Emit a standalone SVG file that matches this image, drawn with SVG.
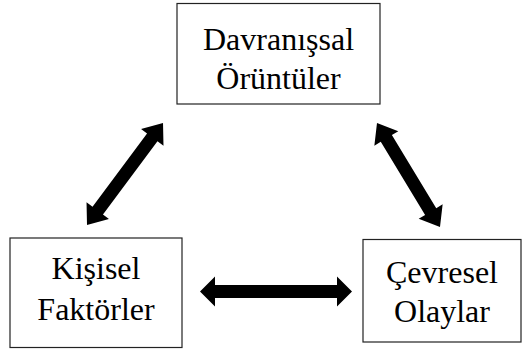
<svg xmlns="http://www.w3.org/2000/svg" width="525" height="349" viewBox="0 0 525 349">
<style>
.box{fill:#fff;stroke:#222;stroke-width:1.2}
.lbl{font-family:'Liberation Serif',serif;font-size:32px;fill:#000;text-anchor:middle}
.arr{fill:#000;stroke:none}
</style>
<rect width="525" height="349" fill="#fff"/>
<g id="connectors">
<g transform="translate(200,291.5)"><polygon class="arr" points="0,0 15,-15 15,-6.5 137,-6.5 137,-15 152,0 137,15 137,6.5 15,6.5 15,15"/></g>
<g transform="translate(87,225) rotate(-53.3)"><polygon class="arr" points="0,0 18,-14 18,-6.5 109.2,-6.5 109.2,-14 127.2,0 109.2,14 109.2,6.5 18,6.5 18,14"/></g>
<g transform="translate(377,123) rotate(58.8)"><polygon class="arr" points="0,0 18,-14 18,-6.5 103.6,-6.5 103.6,-14 121.6,0 103.6,14 103.6,6.5 18,6.5 18,14"/></g>
</g>
<g id="davranissal" font-family="Liberation Serif, serif">
<rect class="box" x="177" y="3.5" width="203" height="100.5"/>
<text class="lbl" x="278.5" y="50">Davranışsal</text>
<text class="lbl" x="278.5" y="89">Örüntüler</text>
</g>
<g id="kisisel" font-family="Liberation Serif, serif">
<rect class="box" x="10" y="238" width="172" height="109.5"/>
<text class="lbl" x="96" y="279">Kişisel</text>
<text class="lbl" x="96" y="320">Faktörler</text>
</g>
<g id="cevresel" font-family="Liberation Serif, serif">
<rect class="box" x="363" y="239.5" width="158" height="102.5"/>
<text class="lbl" x="442" y="283">Çevresel</text>
<text class="lbl" x="442" y="322">Olaylar</text>
</g>
</svg>
